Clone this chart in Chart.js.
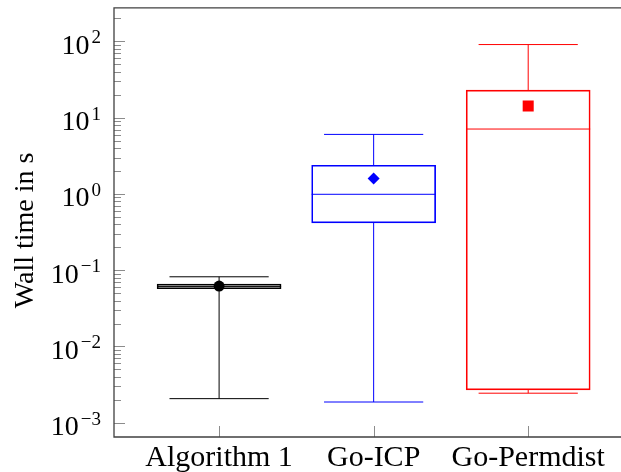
<!DOCTYPE html>
<html>
<head>
<meta charset="utf-8">
<title>Wall time box plot</title>
<script src="https://cdn.jsdelivr.net/npm/chart.js@4.4.1/dist/chart.umd.min.js"></script>
<style>
  html, body { margin: 0; padding: 0; background: #fff; overflow: hidden; }
  #wrap { width: 621px; height: 472px; }
</style>
</head>
<body>
<div id="wrap"><canvas id="boxChart" width="621" height="472"></canvas></div>
<script>
// values (seconds, log axis)
const categories = ['Algorithm 1', 'Go-ICP', 'Go-Permdist'];
const lowerWhisker = [0.00207, 0.00187, 0.00244];
const lowerQuartile = [0.0572, 0.417, 0.0027];
const medians = [0.061, 0.99, 7.1];
const upperQuartile = [0.0656, 2.38, 23];
const upperWhisker = [0.082, 6.04, 91];
const means = [0.062, 1.59, 14.2];
const yTickExponents = [-3, -2, -1, 0, 1, 2];

const boxColors = ['#000000', '#0000ff', '#ff0000'];
const meanStyles = ['circle', 'rectRot', 'rect'];
const meanRadius = [5.5, 6, 7.8];
const serif = "'Liberation Serif', 'DejaVu Serif', serif";

const boxPlotExtras = {
  id: 'boxPlotExtras',
  // whiskers and medians go right after the boxes, under the mean markers
  afterDatasetDraw(chart, args) {
    if (args.meta.type !== 'bar') return;
    const { ctx, scales: { x, y } } = chart;
    const bars = args.meta.data;
    ctx.save();
    ctx.lineWidth = 1;
    categories.forEach((c, i) => {
      const cx = x.getPixelForValue(i + 1);
      const half = bars[i].width / 2;
      const cap = half * 0.8;
      const yMed = y.getPixelForValue(medians[i]);
      const yQ1 = y.getPixelForValue(lowerQuartile[i]);
      const yQ3 = y.getPixelForValue(upperQuartile[i]);
      const yLo = y.getPixelForValue(lowerWhisker[i]);
      const yHi = y.getPixelForValue(upperWhisker[i]);
      ctx.strokeStyle = boxColors[i];
      ctx.beginPath();
      ctx.moveTo(cx - half, yMed); ctx.lineTo(cx + half, yMed);
      ctx.moveTo(cx, yQ3); ctx.lineTo(cx, yHi);
      ctx.moveTo(cx - cap, yHi); ctx.lineTo(cx + cap, yHi);
      ctx.moveTo(cx, yQ1); ctx.lineTo(cx, yLo);
      ctx.moveTo(cx - cap, yLo); ctx.lineTo(cx + cap, yLo);
      ctx.stroke();
    });
    ctx.restore();
  },
  afterDraw(chart) {
    const { ctx, chartArea: a, scales: { x, y } } = chart;
    ctx.save();

    // tick marks, drawn inwards like pgfplots
    ctx.strokeStyle = '#8c8c8c';
    ctx.lineWidth = 1;
    ctx.beginPath();
    yTickExponents.forEach(e => {
      for (let m = 1; m <= 9; m++) {
        const v = m * Math.pow(10, e);
        if (v < y.min || v > y.max) continue;
        const py = Math.round(y.getPixelForValue(v)) + 0.5;
        ctx.moveTo(a.left, py);
        ctx.lineTo(a.left + (m === 1 ? 11 : 7), py);
      }
    });
    categories.forEach((c, i) => {
      const px = Math.round(x.getPixelForValue(i + 1)) + 0.5;
      ctx.moveTo(px, a.bottom);
      ctx.lineTo(px, a.bottom - 11);
    });
    ctx.stroke();

    // frame: the right edge of the axis box lies outside the picture
    ctx.strokeStyle = '#404040';
    ctx.lineWidth = 1.3;
    ctx.beginPath();
    ctx.moveTo(chart.width + 2, a.top);
    ctx.lineTo(a.left, a.top);
    ctx.lineTo(a.left, a.bottom);
    ctx.lineTo(chart.width + 2, a.bottom);
    ctx.stroke();

    // y tick labels 10^e
    ctx.fillStyle = '#000';
    ctx.textAlign = 'right';
    ctx.textBaseline = 'alphabetic';
    yTickExponents.forEach(e => {
      const py = y.getPixelForValue(Math.pow(10, e));
      const expText = e < 0 ? '\u2212' + Math.abs(e) : String(e);
      ctx.font = '19px ' + serif;
      const expW = ctx.measureText(expText).width;
      ctx.fillText(expText, a.left - 13, py + 2);
      ctx.font = '28px ' + serif;
      ctx.fillText('10', a.left - 13 - expW - 2, py + 12.5);
    });

    // category labels
    ctx.textAlign = 'center';
    ctx.font = '30px ' + serif;
    categories.forEach((c, i) => {
      ctx.fillText(c, x.getPixelForValue(i + 1), 466);
    });

    // axis title
    ctx.font = '28px ' + serif;
    ctx.translate(33, (a.top + a.bottom) / 2 + 8);
    ctx.rotate(-Math.PI / 2);
    ctx.fillText('Wall time in s', 0, 0);
    ctx.restore();
  }
};

new Chart(document.getElementById('boxChart'), {
  type: 'bar',
  data: {
    datasets: [
      {
        type: 'bar',
        order: 2,
        data: categories.map((c, i) => ({ x: i + 1, y: [lowerQuartile[i], upperQuartile[i]] })),
        backgroundColor: 'rgba(0,0,0,0)',
        borderColor: boxColors,
        borderWidth: 1,
        borderSkipped: false,
        barThickness: 124
      },
      ...categories.map((c, i) => ({
        type: 'scatter',
        order: 1,
        data: [{ x: i + 1, y: means[i] }],
        pointStyle: meanStyles[i],
        pointRadius: meanRadius[i],
        backgroundColor: boxColors[i],
        borderColor: boxColors[i],
        borderWidth: 0
      }))
    ]
  },
  options: {
    responsive: false,
    animation: false,
    layout: { padding: { left: 114, top: 7, right: 0, bottom: 35 } },
    plugins: {
      legend: { display: false },
      tooltip: { enabled: false }
    },
    scales: {
      x: {
        type: 'linear',
        offset: false,
        min: 0.32,
        max: 3.55,
        ticks: { display: false },
        grid: { display: false, drawTicks: false, offset: false },
        border: { display: false }
      },
      y: {
        type: 'logarithmic',
        min: Math.pow(10, -3.187),
        max: Math.pow(10, 2.441),
        bounds: 'data',
        ticks: { display: false },
        grid: { display: false, drawTicks: false },
        border: { display: false }
      }
    }
  },
  plugins: [boxPlotExtras]
});
</script>
</body>
</html>
